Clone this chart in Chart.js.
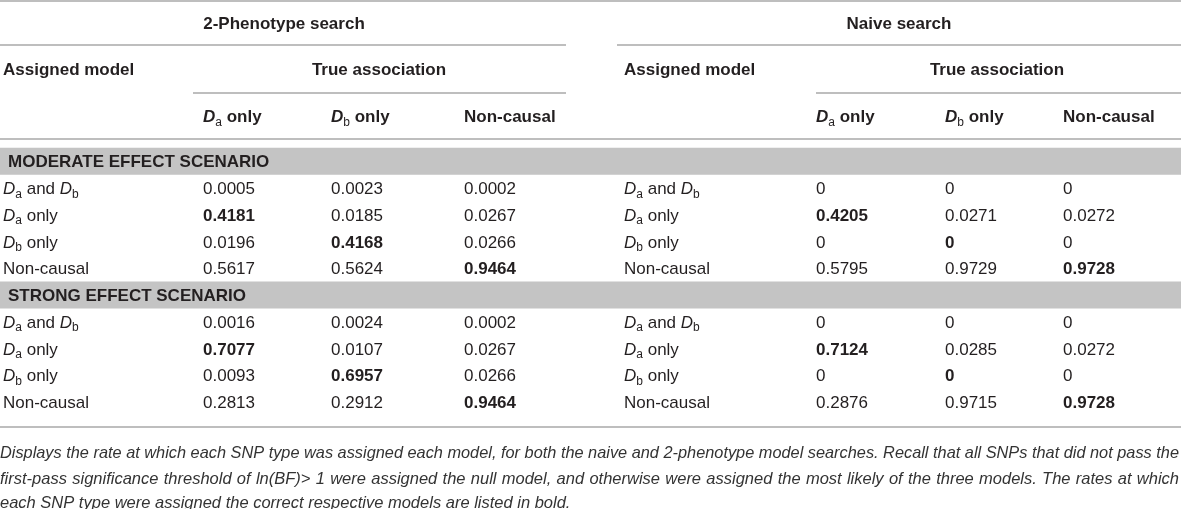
<!DOCTYPE html>
<html>
<head>
<meta charset="utf-8">
<script src="https://cdn.jsdelivr.net/npm/chart.js@4/dist/chart.umd.min.js"></script>
<style>
  html, body { margin: 0; padding: 0; background: #ffffff; }
  #wrap { width: 1181px; height: 509px; position: relative; }
</style>
</head>
<body>
<div id="wrap"><canvas id="c" width="1181" height="509"></canvas></div>
<script>
// ---------------- DATA ----------------
const searches = ['2-Phenotype search', 'Naive search'];
const assignedHeader = 'Assigned model';
const trueHeader = 'True association';
const colLabels = ['D_a only', 'D_b only', 'Non-causal'];
const rowLabels = ['D_a and D_b', 'D_a only', 'D_b only', 'Non-causal'];
const scenarios = ['MODERATE EFFECT SCENARIO', 'STRONG EFFECT SCENARIO'];

// rows follow rowLabels, columns follow colLabels
const twoPhenoModerate = [
  [0.0005, 0.0023, 0.0002],
  [0.4181, 0.0185, 0.0267],
  [0.0196, 0.4168, 0.0266],
  [0.5617, 0.5624, 0.9464]
];
const twoPhenoStrong = [
  [0.0016, 0.0024, 0.0002],
  [0.7077, 0.0107, 0.0267],
  [0.0093, 0.6957, 0.0266],
  [0.2813, 0.2912, 0.9464]
];
const naiveModerate = [
  [0, 0, 0],
  [0.4205, 0.0271, 0.0272],
  [0, 0, 0],
  [0.5795, 0.9729, 0.9728]
];
const naiveStrong = [
  [0, 0, 0],
  [0.7124, 0.0285, 0.0272],
  [0, 0, 0],
  [0.2876, 0.9715, 0.9728]
];

const captionLines = [
  'Displays the rate at which each SNP type was assigned each model, for both the naive and 2-phenotype model searches. Recall that all SNPs that did not pass the',
  'first-pass significance threshold of ln(BF)> 1 were assigned the null model, and otherwise were assigned the most likely of the three models. The rates at which',
  'each SNP type were assigned the correct respective models are listed in bold.'
];

// ---------------- LAYOUT (positions / styles) ----------------
const L = {
  W: 1181, H: 509,
  blocks: [
    { labelX: 3,   colX: [203, 331, 464],  titleCX: 284, trueCX: 379, ruleTitle: [0, 566],   ruleTrue: [193, 566] },
    { labelX: 624, colX: [816, 945, 1063], titleCX: 899, trueCX: 997, ruleTitle: [617, 1181], ruleTrue: [816, 1181] }
  ],
  titleY: 23, headY: 69, colHeadY: 116,
  firstRowY: 188, rowStep: 26.75,
  rules: { top: 1, head: 139, bottom: 427, title: 45, trueLine: 93 },
  bandH: 27, bandTextX: 8,
  captionY: [452, 478, 502], captionW: 1179
};
const FONT = '"Liberation Sans", Arial, sans-serif';
const TEXT = '#231f20';
const RULE = '#a9a9a9';
const BAND = '#c4c4c4';
const CAPTION = '#333333';
const MAIN_SIZE = 17, SUB_SIZE = 12, CAP_SIZE = 16.5;

const rowY = (s, r) => L.firstRowY + (s * 5 + r) * L.rowStep;
const bandY = (s) => L.firstRowY + (s * 5 - 1) * L.rowStep;

// ---------------- rich text helpers ----------------
function parseRich(str, bold) {
  const segs = []; const re = /D_([ab])/g; let last = 0, m;
  while ((m = re.exec(str))) {
    if (m.index > last) segs.push({ t: str.slice(last, m.index), b: bold });
    segs.push({ t: 'D', b: bold, i: true });
    segs.push({ t: m[1], sub: true });
    last = re.lastIndex;
  }
  if (last < str.length) segs.push({ t: str.slice(last), b: bold });
  return segs;
}
function segFont(s) {
  const size = s.sub ? SUB_SIZE : MAIN_SIZE;
  return (s.i ? 'italic ' : '') + (s.b ? 'bold ' : '') + size + 'px ' + FONT;
}
function drawRich(ctx, segs, x, y, align, color) {
  ctx.save();
  ctx.fillStyle = color || TEXT;
  ctx.textBaseline = 'alphabetic';
  ctx.textAlign = 'left';
  let total = 0;
  const widths = segs.map(s => { ctx.font = segFont(s); const w = ctx.measureText(s.t).width; total += w; return w; });
  let cx = align === 'center' ? x - total / 2 : x;
  const base = y + 6.1;
  segs.forEach((s, k) => {
    ctx.font = segFont(s);
    ctx.fillText(s.t, cx, s.sub ? base + 3.5 : base);
    cx += widths[k];
  });
  ctx.restore();
}

// ---------------- datasets built from the data arrays ----------------
const tables = [[twoPhenoModerate, twoPhenoStrong], [naiveModerate, naiveStrong]];
const fmt = v => v === 0 ? '0' : v.toFixed(4);
const datasets = [];
tables.forEach((blockData, b) => {
  const blk = L.blocks[b];
  const labelPts = [];
  scenarios.forEach((sc, s) => rowLabels.forEach((lab, r) => {
    labelPts.push({ x: blk.labelX, y: rowY(s, r), text: lab, bold: false });
  }));
  datasets.push({ label: searches[b] + ' labels', data: labelPts, pointRadius: 0, cellText: true });
  colLabels.forEach((cl, c) => {
    const pts = [];
    blockData.forEach((mat, s) => mat.forEach((row, r) => {
      pts.push({ x: blk.colX[c], y: rowY(s, r), text: fmt(row[c]), bold: r === c + 1 });
    }));
    datasets.push({ label: searches[b] + ' ' + cl, data: pts, pointRadius: 0, cellText: true });
  });
});

// ---------------- table plugin ----------------
const tablePlugin = {
  id: 'tablePlugin',
  beforeDatasetsDraw(chart) {
    const ctx = chart.ctx, xs = chart.scales.x, ys = chart.scales.y;
    ctx.save();
    ctx.fillStyle = BAND;
    scenarios.forEach((sc, s) => {
      const yc = ys.getPixelForValue(bandY(s));
      ctx.fillRect(xs.getPixelForValue(0), yc - L.bandH / 2, xs.getPixelForValue(L.W) - xs.getPixelForValue(0), L.bandH);
    });
    ctx.restore();
    ctx.save();
    ctx.strokeStyle = RULE; ctx.lineWidth = 1.6;
    const hline = (x0, x1, y) => {
      ctx.beginPath();
      ctx.moveTo(xs.getPixelForValue(x0), ys.getPixelForValue(y));
      ctx.lineTo(xs.getPixelForValue(x1), ys.getPixelForValue(y));
      ctx.stroke();
    };
    hline(0, L.W, L.rules.top);
    hline(0, L.W, L.rules.head);
    hline(0, L.W, L.rules.bottom);
    L.blocks.forEach(blk => {
      hline(blk.ruleTitle[0], blk.ruleTitle[1], L.rules.title);
      hline(blk.ruleTrue[0], blk.ruleTrue[1], L.rules.trueLine);
    });
    ctx.restore();
    L.blocks.forEach((blk, b) => {
      drawRich(ctx, parseRich(searches[b], true), xs.getPixelForValue(blk.titleCX), ys.getPixelForValue(L.titleY), 'center');
      drawRich(ctx, parseRich(assignedHeader, true), xs.getPixelForValue(blk.labelX), ys.getPixelForValue(L.headY), 'left');
      drawRich(ctx, parseRich(trueHeader, true), xs.getPixelForValue(blk.trueCX), ys.getPixelForValue(L.headY), 'center');
      colLabels.forEach((cl, c) => {
        drawRich(ctx, parseRich(cl, true), xs.getPixelForValue(blk.colX[c]), ys.getPixelForValue(L.colHeadY), 'left');
      });
    });
    scenarios.forEach((sc, s) => {
      drawRich(ctx, parseRich(sc, true), xs.getPixelForValue(L.bandTextX), ys.getPixelForValue(bandY(s)), 'left');
    });
    // caption (justified)
    ctx.save();
    ctx.fillStyle = CAPTION;
    ctx.font = 'italic ' + CAP_SIZE + 'px ' + FONT;
    ctx.textBaseline = 'alphabetic';
    captionLines.forEach((line, k) => {
      const y = ys.getPixelForValue(L.captionY[k]) + 5.5;
      const words = line.split(' ');
      const ww = words.map(w => ctx.measureText(w).width);
      const sum = ww.reduce((a, v) => a + v, 0);
      const sp = ctx.measureText(' ').width;
      const natural = sum + sp * (words.length - 1);
      const justify = k < captionLines.length - 1;
      let scale = 1;
      if (natural > L.captionW) scale = L.captionW / natural;
      ctx.save();
      ctx.translate(xs.getPixelForValue(0), y);
      ctx.scale(scale, 1);
      let gap = sp;
      if (justify) gap = (L.captionW / scale - sum) / (words.length - 1);
      let cx = 0;
      words.forEach((w, i) => { ctx.fillText(w, cx, 0); cx += ww[i] + gap; });
      ctx.restore();
    });
    ctx.restore();
  },
  afterDatasetsDraw(chart) {
    const ctx = chart.ctx;
    chart.data.datasets.forEach((ds, di) => {
      if (!ds.cellText) return;
      const meta = chart.getDatasetMeta(di);
      meta.data.forEach((el, i) => {
        const p = ds.data[i];
        drawRich(ctx, parseRich(p.text, p.bold), el.x, el.y, 'left');
      });
    });
  }
};

new Chart(document.getElementById('c'), {
  type: 'scatter',
  data: { datasets },
  options: {
    responsive: false,
    animation: false,
    layout: { padding: 0 },
    events: [],
    scales: {
      x: { type: 'linear', min: 0, max: L.W, display: false },
      y: { type: 'linear', min: 0, max: L.H, reverse: true, display: false }
    },
    plugins: { legend: { display: false }, tooltip: { enabled: false }, title: { display: false } }
  },
  plugins: [tablePlugin]
});
</script>
</body>
</html>
